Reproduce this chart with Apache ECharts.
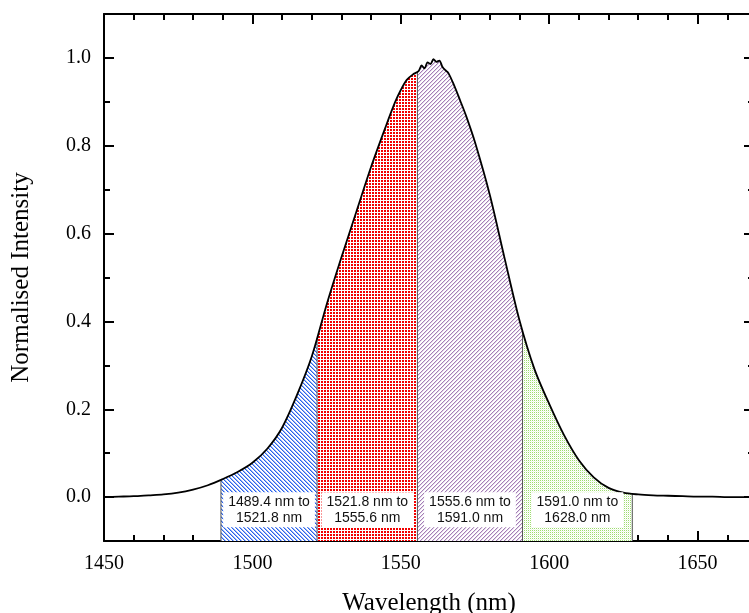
<!DOCTYPE html>
<html>
<head>
<meta charset="utf-8">
<script src="https://cdn.jsdelivr.net/npm/echarts@6/dist/echarts.min.js"></script>
<style>
html,body{margin:0;padding:0;background:#fff;}
#chart{width:749px;height:613px;}
</style>
</head>
<body>
<div id="chart"></div>
<script>
// ---- data ----
const wavelength = [1450,1455,1460,1465,1470,1475,1480,1485,1490,1495,1500,1505,1510,1515,1520,1525,1530,1535,1540,1545,1548,1550,1552,1554,1556,1557,1558,1559,1560,1561,1562,1563,1564,1565,1566,1568,1570,1572,1575,1580,1585,1590,1595,1600,1605,1610,1615,1620,1625,1630,1635,1640,1645,1650,1655,1660,1669];
const intensity  = [0.000,0.001,0.002,0.004,0.006,0.010,0.017,0.027,0.041,0.057,0.078,0.110,0.158,0.232,0.320,0.438,0.546,0.649,0.752,0.845,0.898,0.927,0.950,0.962,0.970,0.983,0.976,0.990,0.986,0.997,0.991,0.994,0.980,0.972,0.966,0.937,0.903,0.868,0.808,0.688,0.543,0.402,0.292,0.212,0.141,0.084,0.045,0.021,0.010,0.006,0.004,0.003,0.002,0.001,0.001,0.000,0.000];
const bandEdges = [1489.4, 1521.8, 1555.6, 1591.0, 1628.0];
const xMajorTicks = [1450,1500,1550,1600,1650];
const xMinorTicks = [1460,1470,1480,1490,1510,1520,1530,1540,1560,1570,1580,1590,1610,1620,1630,1640,1660];
const yMajorTicks = [0.0,0.2,0.4,0.6,0.8,1.0];
const yMinorTicks = [-0.1,0.1,0.3,0.5,0.7,0.9,1.1];

// ---- helpers ----
function interp(x){
  for(let i=0;i<wavelength.length-1;i++){
    if(x>=wavelength[i] && x<=wavelength[i+1]){
      const t=(x-wavelength[i])/(wavelength[i+1]-wavelength[i]);
      return intensity[i]+t*(intensity[i+1]-intensity[i]);
    }
  }
  return 0;
}
function makePattern(size, fn){
  const c=document.createElement('canvas');
  c.width=size;c.height=size;
  const ctx=c.getContext('2d');
  ctx.fillStyle='#ffffff';ctx.fillRect(0,0,size,size);
  for(let y=0;y<size;y++)for(let x=0;x<size;x++){
    const col=fn(x,y);
    if(col){ctx.fillStyle=col;ctx.fillRect(x,y,1,1);}
  }
  return {image:c,repeat:'repeat'};
}
const patterns=[
  makePattern(4,(x,y)=>{const m=((x-y)%4+4)%4; return m===0?'#2a62ec':(m===1?'#9ab6f4':null);}),
  makePattern(3,(x,y)=>(x<2&&y<2)?'#f20000':null),
  makePattern(4,(x,y)=>{const m=(x+y)%4; return m===0?'#a47eb6':(m===1?'#e4d7ea':null);}),
  makePattern(2,(x,y)=>(x===0&&y===0)?'#9edc70':((x===1&&y===1)?'#eef9e6':null))
];

const lineData = wavelength.map((w,i)=>[w,intensity[i]]);
const series=[];
for(let b=0;b<bandEdges.length-1;b++){
  const a=bandEdges[b], e=bandEdges[b+1];
  const pts=[[a,interp(a)]];
  wavelength.forEach((w,i)=>{if(w>a&&w<e)pts.push([w,intensity[i]]);});
  pts.push([e,interp(e)]);
  series.push({type:'line',xAxisIndex:0,yAxisIndex:0,data:pts,showSymbol:false,silent:true,
    lineStyle:{width:0},areaStyle:{origin:'start',color:patterns[b],opacity:1},z:1});
}
bandEdges.forEach(e=>{
  series.push({type:'line',xAxisIndex:0,yAxisIndex:0,data:[[e,-0.1],[e,interp(e)]],showSymbol:false,silent:true,
    lineStyle:{width:1,color:'#555'},z:2});
});
series.push({type:'line',xAxisIndex:0,yAxisIndex:0,data:lineData,showSymbol:false,smooth:0.3,
  lineStyle:{width:1.8,color:'#000'},z:5});
const labelTexts=[], labelPos=[];
for(let b=0;b<bandEdges.length-1;b++){
  const a=bandEdges[b], e=bandEdges[b+1];
  labelPos.push([(a+e)/2,-0.029]);
  labelTexts.push(a.toFixed(1)+' nm to\n'+e.toFixed(1)+' nm');
}
series.push({type:'custom',xAxisIndex:0,yAxisIndex:0,data:labelPos,silent:true,z:6,
  renderItem:(params,api)=>{
    const pt=api.coord([api.value(0),api.value(1)]);
    return {type:'text',x:pt[0],y:pt[1],z2:10,style:{text:labelTexts[params.dataIndex],fill:'#111',
      font:'14px "Liberation Sans", Arial, sans-serif',align:'center',verticalAlign:'middle',
      backgroundColor:'#ffffff',padding:[2,5,1,5],lineHeight:16,opacity:1}};
  }});

const axLine={show:true,onZero:false,lineStyle:{color:'#000',width:2}};
const noLine={show:false,onZero:false};
const serif='Liberation Serif';
function xAx(pos,major,withLabels,showLine){
  return {type:'value',position:pos,min:1450,max:1669,
    axisLine:showLine?axLine:noLine,
    axisTick:{show:true,inside:true,length:major?10:6,lineStyle:{color:'#000',width:2},customValues:major?xMajorTicks:xMinorTicks},
    axisLabel:withLabels?{show:true,customValues:xMajorTicks,formatter:v=>String(v),fontFamily:serif,fontSize:20,color:'#000',margin:13}:{show:false},
    splitLine:{show:false},
    name:withLabels?'Wavelength (nm)':'',nameLocation:'middle',nameGap:50,
    nameTextStyle:{fontFamily:serif,fontSize:25,color:'#000'}};
}
function yAx(pos,major,withLabels,showLine){
  return {type:'value',position:pos,min:-0.1,max:1.1,
    axisLine:showLine?axLine:noLine,
    axisTick:{show:true,inside:true,length:major?10:6,lineStyle:{color:'#000',width:2},customValues:major?yMajorTicks:yMinorTicks},
    axisLabel:withLabels?{show:true,customValues:yMajorTicks,formatter:v=>v.toFixed(1),fontFamily:serif,fontSize:20,color:'#000',margin:13}:{show:false},
    splitLine:{show:false},
    name:withLabels?'Normalised Intensity':'',nameLocation:'middle',nameGap:70,
    nameTextStyle:{fontFamily:serif,fontSize:25,color:'#000'}};
}
const chart=echarts.init(document.getElementById('chart'),null,{renderer:'canvas'});
chart.setOption({
  animation:false,
  backgroundColor:'#fff',
  grid:{left:104,top:14,right:-5,bottom:72,containLabel:false,outerBoundsMode:'none'},
  xAxis:[xAx('bottom',true,true,true),xAx('bottom',false,false,false),xAx('top',true,false,true),xAx('top',false,false,false)],
  yAxis:[yAx('left',true,true,true),yAx('left',false,false,false),yAx('right',true,false,true),yAx('right',false,false,false)],
  series:series
});
</script>
</body>
</html>
